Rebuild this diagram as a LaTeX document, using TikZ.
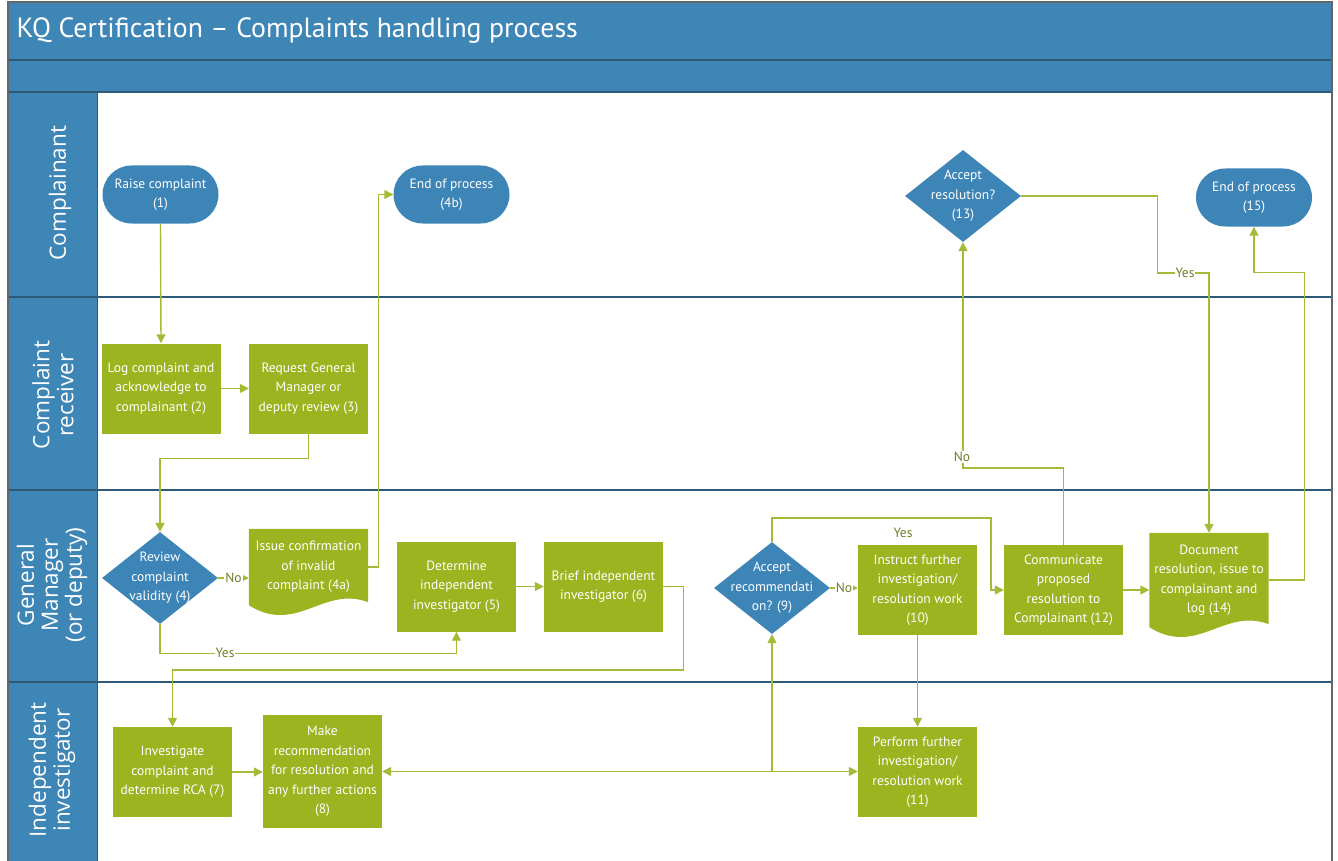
\documentclass[tikz,border=0pt]{standalone}
\usepackage{fontspec}
\setmainfont{PT Sans}
\newfontfamily\lanefont{Open Sans}
\usetikzlibrary{arrows.meta,shapes.geometric,shapes.misc}
\definecolor{tbblue}{RGB}{62,134,182}
\definecolor{nblue}{RGB}{61,133,183}
\definecolor{gfill}{RGB}{155,180,32}
\definecolor{conn}{RGB}{165,186,55}
\definecolor{sepc}{RGB}{45,90,120}
\definecolor{lblc}{RGB}{110,128,40}
\pgfdeclarelayer{bg}
\pgfsetlayers{bg,main}
\newcommand\nf{\fontsize{13.5}{19.5}\selectfont}
\newcommand\docfill[1]{\begin{pgfonlayer}{bg}\fill[gfill] (#1.south west) -- (#1.north west) -- (#1.north east) -- ([yshift=3pt]#1.south east) .. controls ([xshift=-45pt,yshift=20pt]#1.south east) and ([xshift=48pt,yshift=-30pt]#1.south west) .. (#1.south west) -- cycle;\end{pgfonlayer}}
\begin{document}
\begin{tikzpicture}[x=1pt,y=-1pt,
  proc/.style={rectangle, fill=gfill, text=white, align=center, font=\nf, minimum width=119pt, minimum height=90pt, inner sep=1pt},
  term/.style={rounded rectangle, fill=nblue, text=white, align=center, font=\nf, minimum width=118pt, minimum height=58pt, inner sep=1pt},
  dec/.style={diamond, fill=nblue, minimum width=116pt, minimum height=92pt, inner sep=0pt},
  dectext/.style={text=white, align=center, font=\nf},
  docnode/.style={rectangle, text=white, align=center, font=\nf, minimum width=119pt, inner sep=1pt},
  cn/.style={draw=conn, line width=1.4pt, -{Triangle[length=9pt,width=9pt]}},
  lbl/.style={fill=white, text=lblc, font=\nf, inner sep=1pt},
  lane/.style={rotate=90, text=white, align=center, font=\lanefont\fontsize{22.5}{24}\selectfont}]
\useasboundingbox (0,0) rectangle (1338,861);
% frame
\fill[tbblue] (8,2) rectangle (1332,92);
\fill[tbblue] (8,92) rectangle (97,861);
\draw[sepc, line width=1.5pt] (8,60) -- (1332,60);
\draw[sepc, line width=1.5pt] (8,92) -- (1332,92);
\draw[sepc, line width=1.5pt] (8,297) -- (1332,297);
\draw[sepc, line width=1.5pt] (8,490) -- (1332,490);
\draw[sepc, line width=1.5pt] (8,682) -- (1332,682);
\draw[sepc, line width=1pt] (97,92) -- (97,861);
\draw[gray!80!black, line width=1.5pt] (8,861) -- (8,2) -- (1332,2) -- (1332,861);
\node[anchor=west, text=white, font=\fontsize{27.8}{34}\selectfont] (title) at (13,31) {KQ Certification – Complaints handling process};
% lanes
\node[lane] (l1) at (60,193) {Complainant};
\node[lane] (l2) at (53,395) {Complaint\\receiver};
\node[lane] (l3) at (52,585) {General\\Manager\\(or deputy)};
\node[lane] (l4) at (52,770) {Independent\\investigator};
% nodes
\node[term] (n1) at (160.5,194.5) {Raise complaint\\(1)};
\node[term] (n4b) at (451.5,194.5) {End of process\\(4b)};
\node[term] (n15) at (1254,197.5) {End of process\\(15)};
\node[dec, label={[dectext]center:{Accept\\resolution?\\(13)}}] (n13) at (963,196) {};
\node[proc] (n2) at (161,388.5) {Log complaint and\\acknowledge to\\complainant (2)};
\node[proc] (n3) at (308.5,388.5) {Request General\\Manager or\\deputy review (3)};
\node[dec, label={[dectext]center:{Review\\complaint\\validity (4)}}] (n4) at (160,578) {};
\node[docnode, minimum height=76pt] (n4a) at (308.5,567) {Issue confirmation\\of invalid\\complaint (4a)};
\docfill{n4a}
\node[proc] (n5) at (456.5,586.5) {Determine\\independent\\investigator (5)};
\node[proc] (n6) at (603.5,586.5) {Brief independent\\investigator (6)};
\node[dec, label={[dectext]center:{Accept\\recommendati\\on? (9)}}] (n9) at (772,588) {};
\node[proc] (n10) at (917.5,590) {Instruct further\\investigation/\\resolution work\\(10)};
\node[proc] (n12) at (1063.5,590) {Communicate\\proposed\\resolution to\\Complainant (12)};
\node[docnode, minimum height=94pt] (n14) at (1209,580) {Document\\resolution, issue to\\complainant and\\log (14)};
\docfill{n14}
\node[proc] (n7) at (172.5,772) {Investigate\\complaint and\\determine RCA (7)};
\node[proc, minimum height=113pt] (n8) at (322.5,771.5) {Make\\recommendation\\for resolution and\\any further actions\\(8)};
\node[proc] (n11) at (917.5,772) {Perform further\\investigation/\\resolution work\\(11)};
% connectors
\draw[cn] (n1.south) -- (n2.north);
\draw[cn] (n2.east) -- (n2.east -| n3.west);
\draw[cn] (n3.south) -- ++(0,25) -| (n4.north);
\draw[cn] (n4.east) -- node[lbl]{No} (n4.east -| n4a.west);
\draw[cn] (n4a.east) -- ++(10,0) |- (n4b.west);
\draw[cn] (n4.south) -- ++(0,29) coordinate (y4) -| (n5.south);
\node[lbl] (yes4) at ([xshift=65pt]y4) {Yes};
\draw[cn] (n5.east) -- (n6.west);
\draw[cn] (n6.east) -- ++(20,0) coordinate (c6) -- (c6 |- 0,670) -| (n7.north);
\draw[cn] (n7.east) -- (n7.east -| n8.west);
\draw[cn, {Triangle[length=9pt,width=9pt]}-{Triangle[length=9pt,width=9pt]}] (n8.east) -- (n8.east -| n11.west);
\draw[cn] (n9.south |- n8.east) -- (n9.south);
\draw[cn] (n9.north) -- ++(0,-24) -| ([xshift=-13pt]n12.west) -- (n12.west);
\node[text=lblc, font=\nf] (yes9) at (903,533) {Yes};
\draw[cn] (n9.east) -- node[lbl]{No} (n9.east -| n10.west);
\draw[cn] (n10.south) -- (n11.north);
\draw[cn] (n12.east) -- (n12.east -| n14.west);
\draw[cn] (n12.north) -- ++(0,-77) -| (n13.south);
\node[lbl] (no12) at (962,457) {No};
\draw[cn] (n13.east) -- ++(136,0) -- ++(0,77) -| (n14.north);
\node[lbl] (yes13) at (1185,273) {Yes};
\draw[cn] (n14.east) -- ++(36,0) |- ([yshift=-46pt]n15.south) -- (n15.south);
\end{tikzpicture}
\end{document}
